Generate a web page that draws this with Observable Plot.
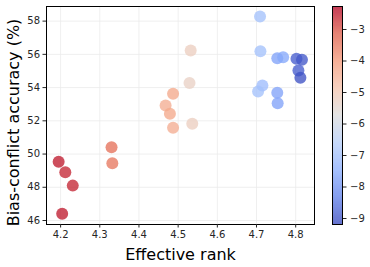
<!DOCTYPE html>
<html>
<head>
<meta charset="utf-8">
<script src="https://cdn.jsdelivr.net/npm/d3@7"></script>
<script src="https://cdn.jsdelivr.net/npm/@observablehq/plot@0.6"></script>
<style>
  body { margin: 0; background: #fff; }
  #wrap { position: relative; width: 370px; height: 267px; font-family: "DejaVu Sans", sans-serif; }
  #wrap svg { position: absolute; top: 0; background: transparent; }
</style>
</head>
<body>
<div id="wrap"></div>
<script>
// Data
const effectiveRank = [4.195, 4.212, 4.231, 4.204, 4.330, 4.332,
  4.487, 4.468, 4.479, 4.487, 4.532, 4.529, 4.536,
  4.709, 4.710, 4.715, 4.704, 4.753, 4.768, 4.753, 4.754,
  4.802, 4.816, 4.807, 4.812];
const accuracy = [49.53, 48.90, 48.10, 46.40, 50.41, 49.45,
  53.63, 52.92, 52.42, 51.58, 56.23, 54.27, 51.82,
  58.28, 56.19, 54.13, 53.77, 55.77, 55.83, 53.69, 53.06,
  55.73, 55.67, 55.03, 54.59];
const colorValue = [-2.5, -2.6, -2.6, -2.5, -3.4, -3.5,
  -4.3, -4.4, -4.3, -4.4, -5.2, -5.3, -5.2,
  -7.0, -7.0, -7.1, -7.0, -7.7, -7.6, -7.7, -7.7,
  -8.9, -9.0, -8.9, -9.1];
const xTicks = [4.2, 4.3, 4.4, 4.5, 4.6, 4.7, 4.8];
const yTicks = [46, 48, 50, 52, 54, 56, 58];
const cTicks = [-3, -4, -5, -6, -7, -8, -9];

const coolwarm = ["#3b4cc0", "#6282ea", "#8db0fe", "#b8d0f9", "#dddddd", "#f5c4ad", "#f49a7b", "#de604d", "#b40426"];
const interp = d3.piecewise(d3.interpolateRgb, coolwarm);
const cDomain = [-9.19, -2.27];
const colorScale = {type: "linear", domain: cDomain, interpolate: interp};

const points = effectiveRank.map((x, i) => ({x, y: accuracy[i], c: colorValue[i]}));

const font = "DejaVu Sans, sans-serif";
const main = Plot.plot({
  width: 370, height: 267,
  marginLeft: 46, marginRight: 56, marginTop: 6, marginBottom: 43,
  style: {fontFamily: font, fontSize: "10px", color: "#262626"},
  x: {domain: [4.164, 4.848]},
  y: {domain: [45.76, 58.88]},
  color: colorScale,
  marks: [
    Plot.gridX(xTicks, {stroke: "#ebebeb", strokeOpacity: 1, strokeWidth: 0.8}),
    Plot.gridY(yTicks, {stroke: "#ebebeb", strokeOpacity: 1, strokeWidth: 0.8}),
    Plot.dot(points, {x: "x", y: "y", fill: "c", r: 6, fillOpacity: 0.78, stroke: null}),
    Plot.frame({stroke: "#000", strokeWidth: 1}),
    Plot.axisX(xTicks, {tickSize: 3.5, tickPadding: 3, label: null, fontSize: 10, tickFormat: d => d.toFixed(1)}),
    Plot.axisY(yTicks, {tickSize: 3.5, tickPadding: 3, label: null, fontSize: 10}),
    Plot.text(["Effective rank"], {frameAnchor: "bottom", dy: 35, fontSize: 16, fill: "#000", textAnchor: "middle"}),
    Plot.text(["Bias-conflict accuracy (%)"], {frameAnchor: "left", rotate: -90, dx: -33, dy: 7, fontSize: 16, fill: "#000", textAnchor: "middle"})
  ]
});
main.style.left = "0px";

const N = 200;
const slices = d3.range(N).map(i => {
  const lo = cDomain[0] + (cDomain[1] - cDomain[0]) * i / N;
  const hi = cDomain[0] + (cDomain[1] - cDomain[0]) * (i + 1) / N;
  return {lo, hi: Math.min(hi + 0.02, cDomain[1]), mid: (lo + hi) / 2};
});
const bar = Plot.plot({
  width: 50, height: 267,
  marginLeft: 12, marginRight: 28, marginTop: 6, marginBottom: 43,
  style: {fontFamily: font, fontSize: "10px", color: "#262626"},
  x: {domain: [0, 1], axis: null},
  y: {domain: cDomain},
  color: colorScale,
  marks: [
    Plot.rect(slices, {x1: 0, x2: 1, y1: "lo", y2: "hi", fill: "mid", shapeRendering: "crispEdges"}),
    Plot.frame({stroke: "#000", strokeWidth: 1}),
    Plot.axisY(cTicks, {anchor: "right", tickSize: 3.5, tickPadding: 4, label: null, fontSize: 10})
  ]
});
const rectGroup = bar.querySelector('g[aria-label="rect"]');
if (rectGroup) rectGroup.setAttribute("opacity", 0.78);
bar.style.left = "320px";

const wrap = document.getElementById("wrap");
wrap.appendChild(main);
wrap.appendChild(bar);
</script>
</body>
</html>
